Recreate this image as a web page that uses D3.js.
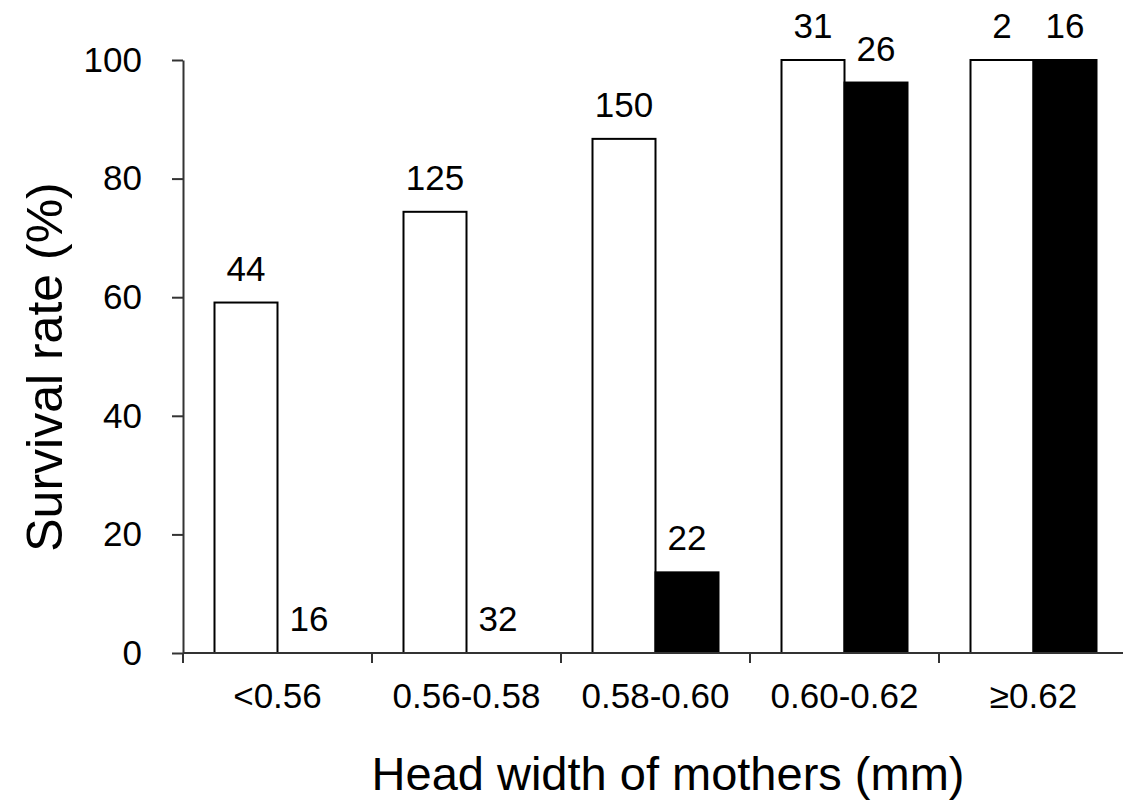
<!DOCTYPE html>
<html>
<head>
<meta charset="utf-8">
<script src="https://cdn.jsdelivr.net/npm/d3@7"></script>
<style>
  body { margin: 0; background: #fff; }
  text { font-family: "Liberation Sans", Arial, sans-serif; fill: #000; }
</style>
</head>
<body>
<script>
var width = 1123, height = 807;
var margin = {top: 60, right: -5, bottom: 154, left: 183};

// data
var categories = ["<0.56", "0.56-0.58", "0.58-0.60", "0.60-0.62", "\u22650.62"];
var groups = ["open", "filled"];
var openRate = [59.1, 74.4, 86.7, 100, 100];
var filledRate = [0, 0, 13.6, 96.2, 100];
var openN = [44, 125, 150, 31, 2];
var filledN = [16, 32, 22, 26, 16];
var yTicks = [0, 20, 40, 60, 80, 100];

var data = categories.map(function(c, i) {
	return {cat: c, bars: [
		{g: "open", v: openRate[i], n: openN[i]},
		{g: "filled", v: filledRate[i], n: filledN[i]}
	]};
});

var svg = d3.select("body").append("svg")
	.attr("width", width)
	.attr("height", height);

var x0 = d3.scaleBand()
	.domain(categories)
	.range([margin.left, width - margin.right])
	.padding(0);

var x1 = d3.scaleBand()
	.domain(groups)
	.range([0, x0.bandwidth()])
	.paddingInner(0)
	.paddingOuter(0.5);

var y = d3.scaleLinear()
	.domain([0, 100])
	.range([height - margin.bottom, margin.top]);

var fill = {open: "#fff", filled: "#000"};

// bars
var cat = svg.selectAll("g.cat")
	.data(data)
	.enter().append("g")
	.attr("class", "cat")
	.attr("transform", function(d) { return "translate(" + x0(d.cat) + ",0)"; });

cat.selectAll("rect")
	.data(function(d) { return d.bars.filter(function(b) { return b.v > 0; }); })
	.enter().append("rect")
	.attr("x", function(b) { return x1(b.g); })
	.attr("y", function(b) { return y(b.v); })
	.attr("width", x1.bandwidth())
	.attr("height", function(b) { return y(0) - y(b.v); })
	.attr("fill", function(b) { return fill[b.g]; })
	.attr("stroke", "#000")
	.attr("stroke-width", 2);

// sample size labels
cat.selectAll("text.n")
	.data(function(d) { return d.bars; })
	.enter().append("text")
	.attr("class", "n")
	.attr("x", function(b) { return x1(b.g) + x1.bandwidth() / 2; })
	.attr("y", function(b) { return y(b.v) - 22; })
	.attr("text-anchor", "middle")
	.style("font-size", "35px")
	.text(function(b) { return b.n; });

// y axis
var yAxis = svg.append("g")
	.attr("transform", "translate(" + margin.left + ",0)")
	.call(d3.axisLeft(y).tickValues(yTicks).tickSize(11).tickPadding(30).tickSizeOuter(0));
yAxis.select(".domain").attr("stroke", "#333").attr("stroke-width", 2);
yAxis.selectAll(".tick line").attr("stroke", "#333").attr("stroke-width", 2);
yAxis.selectAll(".tick text")
	.style("font-size", "35px")
	.style("font-family", "Liberation Sans, Arial, sans-serif")
	.attr("fill", "#000")
	.attr("x", -41);

// x axis: ticks on category boundaries
var xAxis = svg.append("g").attr("class", "xaxis");
var x2 = x0.range()[1];
xAxis.append("line")
	.attr("x1", margin.left).attr("x2", x2)
	.attr("y1", y(0)).attr("y2", y(0))
	.attr("stroke", "#333").attr("stroke-width", 2);
var bounds = categories.map(function(c) { return x0(c); }).concat([x2]);
xAxis.selectAll("line.tk")
	.data(bounds)
	.enter().append("line")
	.attr("class", "tk")
	.attr("x1", function(d) { return d; }).attr("x2", function(d) { return d; })
	.attr("y1", y(0)).attr("y2", y(0) + 10)
	.attr("stroke", "#333").attr("stroke-width", 2);
xAxis.selectAll("text")
	.data(categories)
	.enter().append("text")
	.attr("x", function(c) { return x0(c) + x0.bandwidth() / 2; })
	.attr("y", y(0) + 55)
	.attr("text-anchor", "middle")
	.style("font-size", "35px")
	.text(function(c) { return c; });

// axis titles
svg.append("text")
	.attr("x", 668)
	.attr("y", 790)
	.attr("text-anchor", "middle")
	.style("font-size", "47px")
	.text("Head width of mothers (mm)");

svg.append("text")
	.attr("transform", "translate(62,367) rotate(-90)")
	.attr("text-anchor", "middle")
	.style("font-size", "50px")
	.text("Survival rate (%)");
</script>
</body>
</html>
